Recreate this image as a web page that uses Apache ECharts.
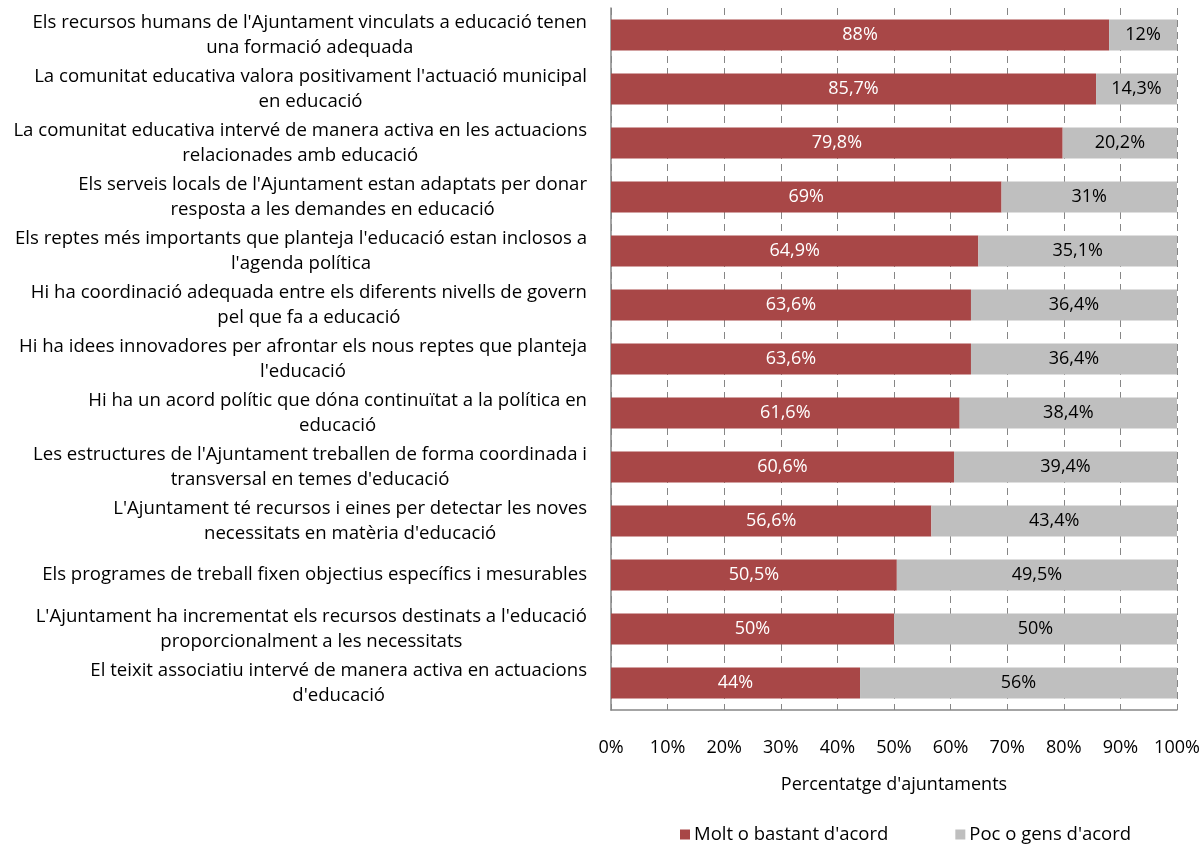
<!DOCTYPE html>
<html><head><meta charset="utf-8">
<script src="https://cdn.jsdelivr.net/npm/echarts@6/dist/echarts.min.js"></script>
<style>html,body{margin:0;padding:0;background:#fff}#c{width:1204px;height:845px}</style>
</head><body><div id="c"></div>
<script>
const categories = [
  "Els recursos humans de l'Ajuntament vinculats a educació tenen\nuna formació adequada",
  "La comunitat educativa valora positivament l'actuació municipal\nen educació",
  "La comunitat educativa intervé de manera activa en les actuacions\nrelacionades amb educació",
  "Els serveis locals de l'Ajuntament estan adaptats per donar\nresposta a les demandes en educació",
  "Els reptes més importants que planteja l'educació estan inclosos a\nl'agenda política",
  "Hi ha coordinació adequada entre els diferents nivells de govern\npel que fa a educació",
  "Hi ha idees innovadores per afrontar els nous reptes que planteja\nl'educació",
  "Hi ha un acord polític que dóna continuïtat a la política en\neducació",
  "Les estructures de l'Ajuntament treballen de forma coordinada i\ntransversal en temes d'educació",
  "L'Ajuntament té recursos i eines per detectar les noves\nnecessitats en matèria d'educació",
  "Els programes de treball fixen objectius específics i mesurables",
  "L'Ajuntament ha incrementat els recursos destinats a l'educació\nproporcionalment a les necessitats",
  "El teixit associatiu intervé de manera activa en actuacions\nd'educació"
];
const seriesNames = ["Molt o bastant d'acord", "Poc o gens d'acord"];
const agree = [88, 85.7, 79.8, 69, 64.9, 63.6, 63.6, 61.6, 60.6, 56.6, 50.5, 50, 44];
const disagree = [12, 14.3, 20.2, 31, 35.1, 36.4, 36.4, 38.4, 39.4, 43.4, 49.5, 50, 56];
const xTicks = [0, 10, 20, 30, 40, 50, 60, 70, 80, 90, 100];

const FONT = 'Open Sans';
const FS = 18;
const FSC = 18.6;
const fmt = v => String(v).replace('.', ',') + '%';
const chart = echarts.init(document.getElementById('c'), null, {renderer: 'canvas'});
chart.setOption({
  animation: false,
  textStyle: {fontFamily: FONT},
  grid: {left: 611, right: 27, top: 8, bottom: 135, containLabel: false},
  legend: {
    top: 825, left: 680, itemWidth: 10, itemHeight: 10, itemGap: 67,
    padding: 0,
    icon: 'rect',
    textStyle: {fontFamily: FONT, fontSize: 18.5, color: '#000', padding: [0, 0, 0, -1]},
    data: seriesNames
  },
  xAxis: {
    type: 'value', min: xTicks[0], max: xTicks[xTicks.length - 1], interval: 10,
    name: "Percentatge d'ajuntaments", nameLocation: 'middle', nameGap: 66,
    nameTextStyle: {fontFamily: FONT, fontSize: FS, color: '#000'},
    axisLine: {show: true, lineStyle: {color: '#868686', width: 1.5}},
    axisTick: {show: false},
    axisLabel: {margin: 29, fontFamily: FONT, fontSize: FS, color: '#000', formatter: v => v + '%'},
    splitLine: {show: true, lineStyle: {color: '#868686', type: [7, 5], width: 1}}
  },
  yAxis: {
    type: 'category', inverse: true, data: categories,
    axisLine: {show: true, lineStyle: {color: '#868686', width: 1.5}},
    axisTick: {show: false},
    axisLabel: {
      margin: 24, fontFamily: FONT, fontSize: FSC, color: '#000', lineHeight: 25,
      formatter: v => v.split('\n').map(s => '{c|' + s + '}').join('\n'),
      rich: {c: {align: 'center', fontFamily: FONT, fontSize: FSC, color: '#000', lineHeight: 25}}
    }
  },
  series: [
    {
      name: seriesNames[0], type: 'bar', stack: 'a', barWidth: '57%',
      data: agree, itemStyle: {color: '#A84747'},
      label: {show: true, position: 'inside', color: '#fff', fontFamily: FONT, fontSize: FS,
        formatter: p => fmt(p.value)}
    },
    {
      name: seriesNames[1], type: 'bar', stack: 'a', barWidth: '57%',
      data: disagree, itemStyle: {color: '#BFBFBF'},
      label: {show: true, position: 'inside', color: '#000', fontFamily: FONT, fontSize: FS,
        formatter: p => fmt(p.value)}
    }
  ]
});
</script></body></html>
